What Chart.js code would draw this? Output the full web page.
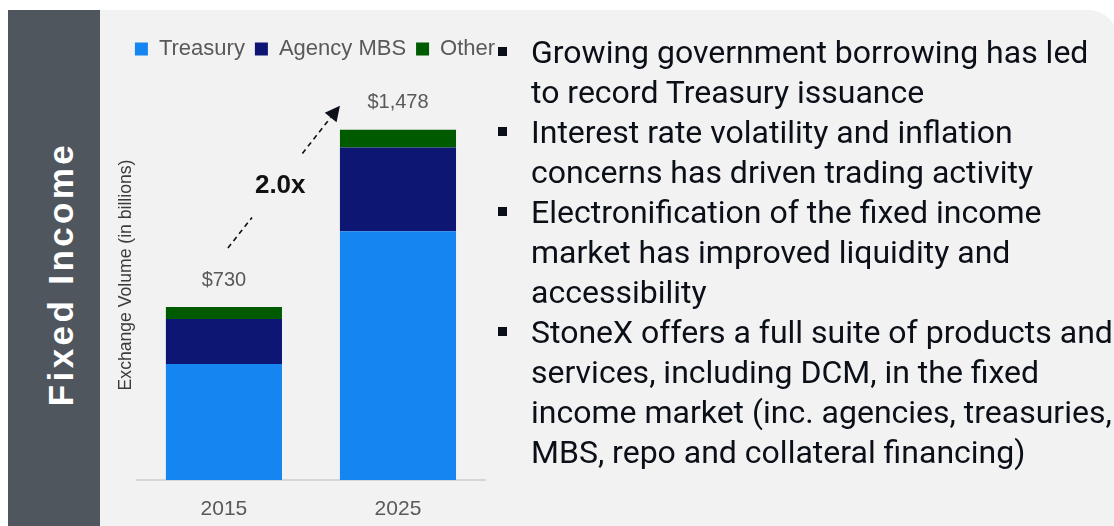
<!DOCTYPE html>
<html>
<head>
<meta charset="utf-8">
<script src="https://cdn.jsdelivr.net/npm/chart.js@4"></script>
<style>
  body { margin: 0; background: #fff; width: 1114px; height: 526px; overflow: hidden; position: relative; }
  .side { position: absolute; left: 8px; top: 10px; width: 92px; height: 516px; background: #50565d; }
  .side span {
    position: absolute; left: 53px; top: 264px; transform: translate(-50%, -50%) rotate(-90deg);
    color: #fff; font: bold 35px "Liberation Sans", Arial, sans-serif; letter-spacing: 3.4px; white-space: nowrap;
  }
  .panel { position: absolute; left: 100px; top: 10px; width: 1018px; height: 530px; background: #f2f2f2; border-top-right-radius: 30px; }
  .chartBox { position: absolute; left: 100px; top: 10px; width: 430px; height: 516px; }
  ul.points { position: absolute; left: 531px; top: 32px; margin: 0; padding: 0; list-style: none;
    font: 32px Roboto, sans-serif; line-height: 40px; color: #0b0f18; white-space: nowrap; }
  ul.points li { position: relative; }
  ul.points li::before { content: ""; position: absolute; left: -33px; top: 15px; width: 9px; height: 9px; background: #0b0f18; }
</style>
</head>
<body>
<div class="side"><span>Fixed Income</span></div>
<div class="panel"></div>
<div class="chartBox"><canvas id="volumeChart"></canvas></div>
<ul class="points">
  <li>Growing government borrowing has led<br>to record Treasury issuance</li>
  <li>Interest rate volatility and inflation<br>concerns has driven trading activity</li>
  <li>Electronification of the fixed income<br>market has improved liquidity and<br>accessibility</li>
  <li>StoneX offers a full suite of products and<br>services, including DCM, in the fixed<br>income market (inc. agencies, treasuries,<br>MBS, repo and collateral financing)</li>
</ul>
<script>
let years = ['2015', '2025'];
let treasury = [489, 1050];
let agencyMBS = [190, 353];
let other = [51, 75];

let totals = years.map((y, i) => treasury[i] + agencyMBS[i] + other[i]);

// labels above the bars and the growth arrow
let annotate = {
    id: 'annotate',
    afterDatasetsDraw(chart) {
        let ctx = chart.ctx;
        let tops = chart.getDatasetMeta(2).data;
        ctx.save();
        ctx.fillStyle = '#595959';
        ctx.font = '20px "Liberation Sans", Arial, sans-serif';
        ctx.textAlign = 'center';
        ctx.textBaseline = 'middle';
        tops.forEach((bar, i) => {
            ctx.fillText('$' + totals[i].toLocaleString('en-US'), bar.x, bar.y - 27);
        });

        let b0 = tops[0], b1 = tops[1];
        let p0 = {x: b0.x + 4, y: b0.y - 59};
        let p1 = {x: b1.x - b1.width / 2, y: b1.y - 24};
        let dx = p1.x - p0.x, dy = p1.y - p0.y;
        let len = Math.hypot(dx, dy);
        let at = t => ({x: p0.x + dx * t, y: p0.y + dy * t});
        let headLen = 15;
        ctx.strokeStyle = '#0a0f1a';
        ctx.lineWidth = 1.6;
        ctx.setLineDash([5, 4]);
        [[0, 0.215], [0.665, 1 - headLen / len]].forEach(([a, b]) => {
            let s = at(a), e = at(b);
            ctx.beginPath();
            ctx.moveTo(s.x, s.y);
            ctx.lineTo(e.x, e.y);
            ctx.stroke();
        });
        ctx.setLineDash([]);
        let ux = dx / len, uy = dy / len;
        let bx = p1.x - ux * headLen, by = p1.y - uy * headLen;
        ctx.fillStyle = '#0a0f1a';
        ctx.beginPath();
        ctx.moveTo(p1.x, p1.y);
        ctx.lineTo(bx - uy * 7.5, by + ux * 7.5);
        ctx.lineTo(bx + uy * 7.5, by - ux * 7.5);
        ctx.closePath();
        ctx.fill();

        let mid = at(0.44);
        ctx.fillStyle = '#111111';
        ctx.font = 'bold 26px "Liberation Sans", Arial, sans-serif';
        ctx.fillText((totals[1] / totals[0]).toFixed(1) + 'x', mid.x + 3, mid.y);
        ctx.restore();
    }
};

let font = '"Liberation Sans", Arial, sans-serif';

let VolumeChart = new Chart(document.getElementById('volumeChart'), {
    type: 'bar',
    data: {
        labels: years,
        datasets: [
            {label: 'Treasury', data: treasury, backgroundColor: '#1585f2'},
            {label: 'Agency MBS', data: agencyMBS, backgroundColor: '#0d1773'},
            {label: 'Other', data: other, backgroundColor: '#005a00'}
        ]
    },
    options: {
        maintainAspectRatio: false,
        responsive: true,
        animation: false,
        categoryPercentage: 1,
        barPercentage: 0.667,
        layout: {padding: {left: 9.8, right: 9.8, top: 18, bottom: 0}},
        scales: {
            x: {
                stacked: true,
                grid: {display: false, drawTicks: false},
                border: {color: '#d6d6d6', width: 2},
                ticks: {color: '#595959', font: {family: font, size: 21}, padding: 17},
                afterFit(scale) { scale.height = 46; }
            },
            y: {
                stacked: true,
                min: 0,
                max: 1730,
                grid: {display: false, drawTicks: false},
                border: {display: false},
                ticks: {display: false},
                title: {
                    display: true,
                    text: 'Exchange Volume (in billions)',
                    color: '#3b3b3b',
                    font: {family: font, size: 17.6},
                    padding: {top: 6, bottom: 0}
                }
            },
            y2: {
                position: 'right',
                grid: {display: false, drawTicks: false},
                border: {display: false},
                ticks: {display: false},
                afterFit(scale) { scale.width = 35.2; }
            }
        },
        plugins: {
            legend: {
                position: 'top',
                labels: {
                    boxWidth: 13,
                    boxHeight: 13,
                    padding: 10,
                    color: '#595959',
                    font: {family: font, size: 22}
                }
            },
            tooltip: {enabled: false}
        }
    },
    plugins: [annotate]
});
</script>
</body>
</html>
